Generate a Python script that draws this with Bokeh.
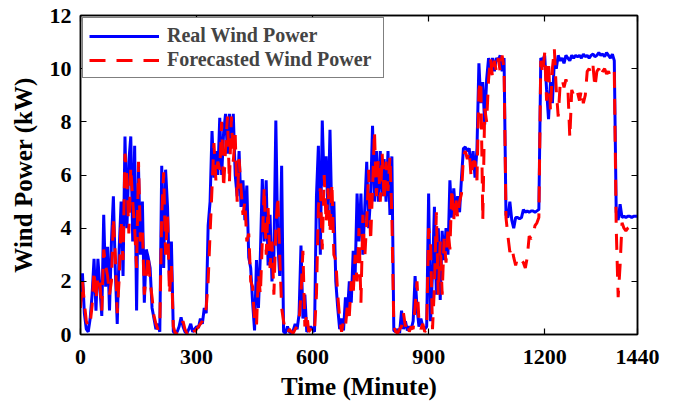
from bokeh.plotting import figure
from bokeh.models import (ColumnDataSource, Range1d, FixedTicker, LinearAxis,
                          Legend, LegendItem)
from bokeh.embed import file_html
from bokeh.resources import INLINE

# time in minutes, 5-minute samples
time_min = list(range(0, 1445, 5))

real_power = [
    1.2, 2.3, 0.8, 0.2, 0.1, 0.6, 1.5, 2.85, 0.9, 2.85, 1.8, 0.7,
    4.5, 1.8, 3.3, 0.9, 3.5, 5.2, 2.4, 0.4, 3.2, 5.0, 2.2, 7.45,
    4.0, 6.5, 7.45, 3.5, 7.1, 0.9, 6.3, 3.0, 5.0, 1.2, 3.2, 2.9,
    2.5, 1.0, 0.6, 0.2, 0.4, 0.1, 6.35, 2.5, 6.2, 4.8, 2.0, 3.5,
    0.1, 0.05, 0.1, 0.3, 0.65, 0.3, 0.1, 0.05, 0.2, 0.4, 0.1, 0.2,
    0.3, 0.25, 0.6, 0.4, 1.0, 0.8, 4.1, 5.0, 7.65, 5.9, 6.9, 6.0,
    8.15, 6.0, 7.6, 8.3, 6.8, 8.3, 7.2, 8.3, 6.0, 5.2, 6.9, 4.8,
    5.8, 4.3, 5.6, 2.9, 2.5, 1.2, 0.15, 2.8, 1.0, 3.0, 5.85, 3.5,
    5.8, 2.6, 4.5, 2.0, 3.0, 8.05, 3.5, 2.2, 6.35, 0.1, 0.05, 0.3,
    0.1, 0.05, 0.15, 0.4, 0.2, 0.75, 3.35, 0.6, 1.5, 0.1, 0.2, 0.3,
    0.2, 0.1, 5.2, 7.1, 3.0, 8.05, 5.6, 6.7, 4.5, 7.7, 4.2, 5.0,
    2.0, 1.0, 0.2, 0.6, 0.15, 1.4, 0.8, 2.0, 1.2, 3.15, 2.2, 5.3,
    3.5, 5.3, 3.0, 4.8, 6.5, 4.0, 5.2, 7.85, 5.0, 6.9, 5.0, 6.9,
    5.2, 6.6, 5.0, 6.9, 4.5, 6.7, 0.15, 0.1, 0.2, 0.05, 0.9, 0.2,
    0.5, 0.15, 0.3, 0.2, 0.5, 2.2, 1.0, 0.3, 0.6, 0.3, 0.2, 0.3,
    5.3, 0.5, 2.3, 4.8, 1.5, 4.0, 1.3, 3.9, 2.8, 4.0, 3.0, 5.8,
    4.4, 5.5, 4.5, 5.2, 4.6, 5.9, 7.0, 7.05, 6.9, 7.0, 6.2, 6.9,
    5.9, 7.0, 10.2, 8.7, 9.5, 7.9, 9.6, 10.4, 9.8, 10.4, 9.9, 10.4,
    10.3, 10.5, 9.9, 10.4, 4.5, 4.4, 5.0, 4.3, 4.0, 4.4, 4.4, 4.35,
    4.4, 4.7, 4.6, 4.65, 4.6, 4.65, 4.65, 4.6, 4.65, 4.7, 10.4, 10.3,
    10.5, 9.2, 8.1, 9.5, 8.7, 10.3, 10.0, 10.5, 10.3, 10.4, 10.2, 10.5,
    10.4, 10.3, 10.5, 10.4, 10.5, 10.45, 10.5, 10.4, 10.55, 10.45, 10.5, 10.4,
    10.5, 10.55, 10.45, 10.5, 10.6, 10.5, 10.55, 10.45, 10.6, 10.5, 10.4, 10.55,
    10.3, 4.6, 4.3, 4.9, 4.4, 4.45, 4.4, 4.45, 4.45, 4.4, 4.45, 4.45,
    4.45,
]

forecast_power = [
    1.0, 2.0, 1.2, 0.5, 0.3, 0.4, 1.1, 2.4, 1.3, 2.2, 2.0, 0.9,
    3.2, 2.6, 2.2, 1.5, 2.0, 4.4, 3.0, 0.8, 2.1, 4.3, 2.8, 6.8,
    5.9, 3.8, 6.3, 5.0, 4.0, 2.5, 6.5, 3.5, 4.0, 1.5, 2.2, 3.0,
    2.0, 1.4, 0.7, 0.4, 0.2, 0.3, 4.5, 6.1, 3.0, 4.5, 1.5, 2.6,
    0.3, 0.05, 0.05, 0.1, 0.3, 0.5, 0.2, 0.05, 0.1, 0.2, 0.3, 0.1,
    0.2, 0.3, 0.4, 0.5, 0.7, 1.0, 2.0, 3.8, 5.5, 7.2, 5.8, 6.5,
    6.2, 8.0, 5.5, 7.0, 8.2, 5.7, 8.2, 6.5, 7.5, 5.0, 6.6, 5.5,
    4.5, 5.0, 3.5, 3.8, 2.0, 1.8, 0.5, 0.3, 2.3, 1.5, 3.5, 5.55,
    3.0, 4.8, 2.5, 3.5, 1.5, 4.0, 5.2, 3.0, 1.0, 0.5, 0.1, 0.05,
    0.2, 0.1, 0.05, 0.2, 0.3, 0.5, 1.5, 3.15, 0.3, 0.8, 0.1, 0.2,
    0.3, 0.15, 1.5, 4.8, 5.5, 3.2, 6.0, 4.2, 5.5, 3.8, 5.7, 3.0,
    2.8, 1.5, 0.6, 0.1, 0.5, 0.3, 1.1, 0.7, 2.0, 1.5, 3.0, 2.0,
    4.0, 1.2, 4.5, 2.9, 4.3, 6.2, 3.5, 5.5, 7.65, 5.2, 6.6, 5.0,
    6.8, 5.0, 6.5, 5.4, 6.7, 4.4, 0.3, 0.1, 0.05, 0.2, 0.3, 0.8,
    0.3, 0.5, 0.1, 0.3, 0.2, 1.0, 2.0, 0.5, 0.2, 0.4, 0.1, 0.2,
    4.0, 3.5, 0.2, 1.8, 4.6, 1.5, 3.5, 1.5, 3.6, 2.7, 4.0, 3.2,
    5.5, 4.3, 5.2, 4.4, 5.0, 5.3, 6.7, 6.9, 6.6, 6.9, 5.9, 6.5,
    6.5, 5.8, 9.2, 9.55, 4.3, 8.5, 8.0, 9.6, 10.4, 9.7, 10.3, 9.9,
    10.4, 9.9, 10.5, 10.0, 4.4, 3.7, 3.1, 3.3, 2.9, 2.6, 2.9, 2.8,
    2.8, 2.7, 2.5, 2.9, 3.7, 3.6, 3.7, 4.1, 4.2, 4.4, 10.3, 9.8,
    10.6, 8.8, 10.3, 8.4, 10.0, 10.75, 9.2, 8.2, 9.4, 9.6, 9.3, 9.6,
    9.3, 7.4, 9.2, 9.0, 8.9, 9.1, 8.8, 9.2, 8.7, 9.0, 9.9, 10.0,
    9.8, 10.1, 9.3, 9.9, 10.0, 9.7, 9.9, 10.0, 9.8, 9.9, 9.7, 9.9,
    9.9, 4.0, 1.4, 2.6, 4.2, 4.0, 3.9, 4.0, 4.05, 4.0, 4.05, 4.05,
    4.05,
]

x_ticks = [0, 300, 600, 900, 1200, 1440]
y_ticks = [0, 2, 4, 6, 8, 10, 12]

FONT = "Liberation Serif"

src = ColumnDataSource(data=dict(t=time_min, real=real_power, fc=forecast_power))

p = figure(width=676, height=403, output_backend="svg", toolbar_location=None,
           x_range=Range1d(0, 1440), y_range=Range1d(0, 12),
           x_axis_label="Time (Minute)", y_axis_label="Wind Power (kW)")
p.min_border_left = 80
p.min_border_right = 39
p.min_border_top = 15
p.min_border_bottom = 69
p.grid.visible = False
p.background_fill_color = "white"
p.border_fill_color = "white"
p.outline_line_color = "black"
p.outline_line_width = 1.5

r1 = p.line("t", "real", source=src, line_color="#0000FF", line_width=3)
r2 = p.line("t", "fc", source=src, line_color="#FF0000", line_width=3,
            line_dash="16 11")

def style_axis(ax, ticks, show_labels=True):
    ax.ticker = FixedTicker(ticks=ticks)
    ax.major_tick_in = 6
    ax.major_tick_out = 0
    ax.minor_tick_line_color = None
    ax.axis_line_color = "black"
    ax.axis_line_width = 1.5
    ax.major_tick_line_width = 1.2
    ax.major_label_text_font = FONT
    ax.major_label_text_font_style = "bold"
    ax.major_label_text_font_size = "22px"
    ax.major_label_text_color = "black"
    ax.axis_label_text_font = FONT
    ax.axis_label_text_font_style = "bold"
    ax.axis_label_text_font_size = "25px"
    ax.axis_label_text_color = "black"
    if not show_labels:
        ax.major_label_overrides = {t: "" for t in ticks}
        ax.major_label_standoff = 0

style_axis(p.xaxis[0], x_ticks)
style_axis(p.yaxis[0], y_ticks)
p.xaxis[0].major_label_standoff = 15
p.xaxis[0].axis_label_standoff = 6
p.yaxis[0].major_label_standoff = 9
p.yaxis[0].axis_label_standoff = 10

top_ax = LinearAxis()
style_axis(top_ax, x_ticks, show_labels=False)
p.add_layout(top_ax, "above")
right_ax = LinearAxis()
style_axis(right_ax, y_ticks, show_labels=False)
p.add_layout(right_ax, "right")

legend = Legend(items=[LegendItem(label="Real Wind Power", renderers=[r1]),
                       LegendItem(label="Forecasted Wind Power", renderers=[r2])],
                location="top_left")
legend.label_text_font = FONT
legend.label_text_font_style = "bold"
legend.label_text_font_size = "20px"
legend.glyph_width = 70
legend.glyph_height = 22
legend.label_height = 22
legend.label_width = 210
legend.label_standoff = 8
legend.spacing = 1
legend.padding = 6
legend.margin = 2
legend.border_line_color = "black"
legend.border_line_width = 1.5
legend.background_fill_alpha = 1.0
p.add_layout(legend)

open("out.html", "w").write(file_html(p, INLINE))
